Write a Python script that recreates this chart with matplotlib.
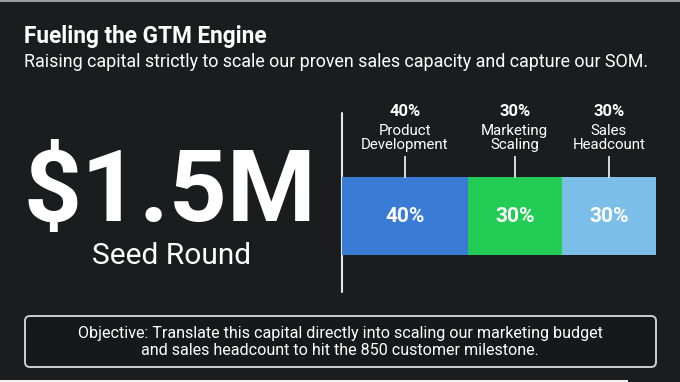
import matplotlib
matplotlib.use("Agg")
import matplotlib.pyplot as plt
from matplotlib.patches import FancyBboxPatch, Rectangle

# ---- data ----
categories = ["Product\nDevelopment", "Marketing\nScaling", "Sales\nHeadcount"]
shares = [40, 30, 30]
colors = ["#3A7BD5", "#22CC55", "#7BBEE8"]
title = "Fueling the GTM Engine"
subtitle = "Raising capital strictly to scale our proven sales capacity and capture our SOM."
headline = "$1.5M"
headline_sub = "Seed Round"
objective = ("Objective: Translate this capital directly into scaling our marketing budget\n"
             "and sales headcount to hit the 850 customer milestone.")

BG = "#1b1c1e"
W, H = 680, 382
plt.rcParams['font.family'] = ['Roboto', 'DejaVu Sans']

fig = plt.figure(figsize=(W / 100, H / 100), dpi=100, facecolor=BG)

# full-figure layout axes in pixel coordinates
lay = fig.add_axes([0, 0, 1, 1])
lay.set_xlim(0, W)
lay.set_ylim(H, 0)
lay.axis("off")
lay.set_facecolor(BG)

# top thin border and bottom strip (screenshot artifacts)
lay.add_patch(Rectangle((0, 0), W, 1.5, color="#9a9a9a", lw=0))
lay.add_patch(Rectangle((0, 380), 628, 2, color="#f2f2f2", lw=0))

lay.text(24, 37, title, color="white", fontsize=16.3, fontweight="bold",
         ha="left", va="center")
lay.text(24, 62, subtitle, color="white", fontsize=12.9, ha="left", va="center")

lay.text(170, 194, headline, color="white", fontsize=73, fontweight="bold",
         ha="center", va="center")
lay.text(172, 256, headline_sub, color="white", fontsize=21.5,
         ha="center", va="center")

# separator line
lay.plot([342, 342], [113, 292], color="#e8e8e8", lw=1.5, solid_capstyle="round")

# objective box
box = FancyBboxPatch((25, 316), 631, 51, boxstyle="round,pad=0,rounding_size=5",
                     facecolor="#17181a", edgecolor="#d0d0d0", lw=1.4)
lay.add_patch(box)
lay.text(340, 342, objective, color="white", fontsize=11.65, ha="center",
         va="center", linespacing=1.2)

# stacked bar axes
left_px, right_px, top_px, bot_px = 342, 656, 177, 255
bax = fig.add_axes([left_px / W, (H - bot_px) / H, (right_px - left_px) / W,
                    (bot_px - top_px) / H])
bax.set_xlim(0, sum(shares))
bax.set_ylim(-0.5, 0.5)
bax.axis("off")

start = 0
for cat, val, col in zip(categories, shares, colors):
    bax.barh(0, val, left=start, height=1.0, color=col, edgecolor="none")
    cx = start + val / 2
    bax.text(cx, 0, f"{val}%", color="white", fontsize=15, fontweight="bold",
             ha="center", va="center")
    # leader line
    bax.plot([cx, cx], [0.5, 0.76], color="#e8e8e8", lw=1.3, clip_on=False)
    bax.text(cx, 1.0, cat, color="white", fontsize=10.8, ha="center",
             va="center", linespacing=1.0)
    bax.text(cx, 1.34, f"{val}%", color="white", fontsize=12,
             fontweight="bold", ha="center", va="center")
    start += val

fig.savefig("out.png", dpi=100, facecolor=BG)
